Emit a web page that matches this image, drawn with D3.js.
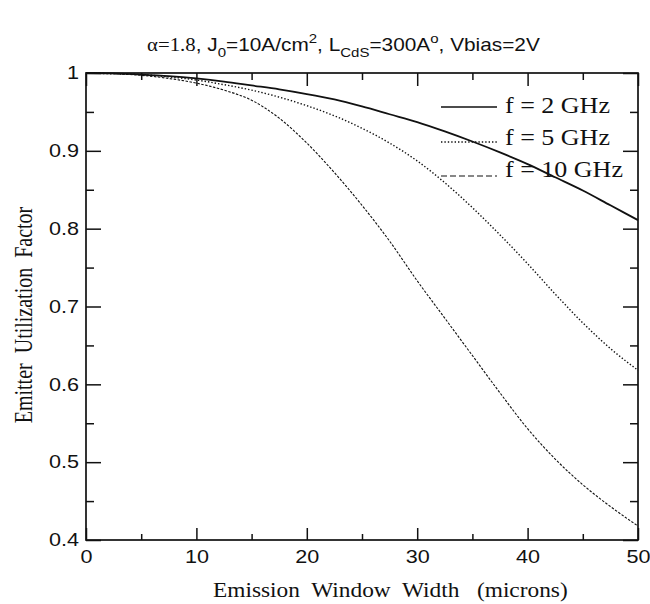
<!DOCTYPE html>
<html><head><meta charset="utf-8">
<script src="https://cdn.jsdelivr.net/npm/d3@7"></script>
<style>
html,body{margin:0;padding:0;background:#fff;}
svg{display:block;}
text{fill:#111;}
</style></head>
<body>
<svg id="chart" width="650" height="604"></svg>
<script>
// ---- data ----
const widths = [0,2.5,5,7.5,10,12.5,15,17.5,20,22.5,25,27.5,30,32.5,35,37.5,40,42.5,45,47.5,50];
const f2GHz  = [1.000,0.9995,0.998,0.996,0.993,0.989,0.984,0.979,0.973,0.966,0.957,0.947,0.937,0.925,0.912,0.898,0.883,0.866,0.849,0.830,0.811];
const f5GHz  = [1.000,0.999,0.998,0.995,0.991,0.985,0.978,0.969,0.958,0.945,0.929,0.910,0.887,0.859,0.827,0.792,0.755,0.716,0.679,0.646,0.618];
const f10GHz = [1.000,0.999,0.997,0.993,0.987,0.978,0.965,0.942,0.910,0.872,0.830,0.784,0.733,0.685,0.637,0.589,0.543,0.504,0.471,0.443,0.418];
const seriesNames = ["f = 2 GHz","f = 5 GHz","f = 10 GHz"];
const xMajor = [0,10,20,30,40,50];
const xMinor = [5,15,25,35,45];
const yMajor = [0.4,0.5,0.6,0.7,0.8,0.9,1];
const yMinor = [0.45,0.55,0.65,0.75,0.85,0.95];
const yTickLabels = ["0.4","0.5","0.6","0.7","0.8","0.9","1"];

const svg = d3.select("#chart");
const L = 86, R = 638, T = 73, B = 540;
const x = d3.scaleLinear().domain([0,50]).range([L,R]);
const y = d3.scaleLinear().domain([0.4,1]).range([B,T]);
const ink = "#111";
const SX = 1.2; // horizontal stretch of the scanned glyphs

function fitWidth(sel, x0, w){
  const bb = sel.node().getBBox();
  const s = w / bb.width;
  sel.attr("transform", `translate(${x0},0) scale(${s},1) translate(${-bb.x},0)`);
}

// ---- axes ----
function styleAxis(g){
  g.select(".domain").remove();
  g.selectAll("line").attr("stroke", ink).attr("stroke-width", 1.5);
  g.selectAll("text").attr("fill", ink).style("font-family","'Liberation Sans', Arial, sans-serif").style("font-size","18px");
}
// bottom
svg.append("g").attr("transform",`translate(0,${B})`)
  .call(d3.axisBottom(x).tickValues(xMajor).tickSize(-12).tickPadding(10).tickFormat(d3.format("d")))
  .call(styleAxis)
  .call(g=>g.selectAll("text").attr("transform",`scale(${SX},1)`));
svg.append("g").attr("transform",`translate(0,${B})`)
  .call(d3.axisBottom(x).tickValues(xMinor).tickSize(-6).tickFormat(""))
  .call(styleAxis);
// top
svg.append("g").attr("transform",`translate(0,${T})`)
  .call(d3.axisTop(x).tickValues(xMajor).tickSize(-13).tickFormat(""))
  .call(styleAxis);
svg.append("g").attr("transform",`translate(0,${T})`)
  .call(d3.axisTop(x).tickValues(xMinor).tickSize(-7).tickFormat(""))
  .call(styleAxis);
// left
svg.append("g").attr("transform",`translate(${L},0)`)
  .call(d3.axisLeft(y).tickValues(yMajor).tickSize(-15).tickPadding(7).tickFormat((d,i)=>yTickLabels[i]))
  .call(styleAxis)
  .call(g=>g.selectAll("text").attr("transform",`scale(${SX},1)`).attr("x",-7/SX));
svg.append("g").attr("transform",`translate(${L},0)`)
  .call(d3.axisLeft(y).tickValues(yMinor).tickSize(-8).tickFormat(""))
  .call(styleAxis);
// right
svg.append("g").attr("transform",`translate(${R},0)`)
  .call(d3.axisRight(y).tickValues(yMajor).tickSize(-15).tickFormat(""))
  .call(styleAxis);
svg.append("g").attr("transform",`translate(${R},0)`)
  .call(d3.axisRight(y).tickValues(yMinor).tickSize(-8).tickFormat(""))
  .call(styleAxis);

// frame
svg.append("rect").attr("x",L).attr("y",T).attr("width",R-L).attr("height",B-T)
  .attr("fill","none").attr("stroke",ink).attr("stroke-width",1.7);

// ---- curves ----
const line = d3.line().x((d,i)=>x(widths[i])).y(d=>y(d)).curve(d3.curveMonotoneX);
const styles = [
  {w:1.8, dash:null, legDash:null, legW:1.3},
  {w:1.4, dash:"1.4,2", legDash:"1.4,2", legW:1.4},
  {w:1.1, dash:"2.5,1.5", legDash:"6,3", legW:1.2}
];
[f2GHz,f5GHz,f10GHz].forEach((s,k)=>{
  svg.append("path").datum(s).attr("d",line).attr("fill","none")
    .attr("stroke",ink).attr("stroke-width",styles[k].w)
    .attr("stroke-dasharray",styles[k].dash);
});

// ---- legend ----
const legLineY = [107,142,176];
const legBase = [113,145,177];
const legEnd = [610,610,623];
seriesNames.forEach((n,k)=>{
  svg.append("line").attr("x1",441).attr("x2",497).attr("y1",legLineY[k]).attr("y2",legLineY[k])
    .attr("stroke",ink).attr("stroke-width",styles[k].legW).attr("stroke-dasharray",styles[k].legDash);
  const t = svg.append("text").attr("x",0).attr("y",legBase[k])
    .style("font-family","'Liberation Serif','Times New Roman',serif").style("font-size","24px")
    .style("white-space","pre").text(n);
  fitWidth(t, 505, legEnd[k]-505);
});

// ---- title ----
const title = svg.append("text").attr("x",0).attr("y",51)
  .style("font-family","'Liberation Sans', Arial, sans-serif").style("font-size","18px");
title.append("tspan").style("font-family","'Liberation Serif','Times New Roman',serif").text("α");
title.append("tspan").style("font-family","'Liberation Serif','Times New Roman',serif").text("=1.8");
title.append("tspan").text(", J");
title.append("tspan").attr("dy",6).style("font-size","13px").text("0");
title.append("tspan").attr("dy",-6).text("=10A/cm");
title.append("tspan").attr("dy",-8).style("font-size","13px").text("2");
title.append("tspan").attr("dy",8).text(", L");
title.append("tspan").attr("dy",6).style("font-size","13px").text("CdS");
title.append("tspan").attr("dy",-6).text("=300A");
title.append("tspan").attr("dy",-8).style("font-size","13px").text("o");
title.append("tspan").attr("dy",8).text(", Vbias=2V");
fitWidth(title, 147, 393);

// ---- axis titles ----
const xt = svg.append("text").attr("x",0).attr("y",597)
  .style("font-family","'Liberation Serif','Times New Roman',serif").style("font-size","21px")
  .style("white-space","pre").text("Emission  Window  Width   (microns)");
fitWidth(xt, 213, 355);

svg.append("text").attr("transform",`translate(32,315) scale(1.3,1) rotate(-90)`)
  .attr("text-anchor","middle")
  .style("font-family","'Liberation Serif','Times New Roman',serif").style("font-size","20px")
  .style("white-space","pre").text("Emitter  Utilization  Factor");
</script>
</body></html>
